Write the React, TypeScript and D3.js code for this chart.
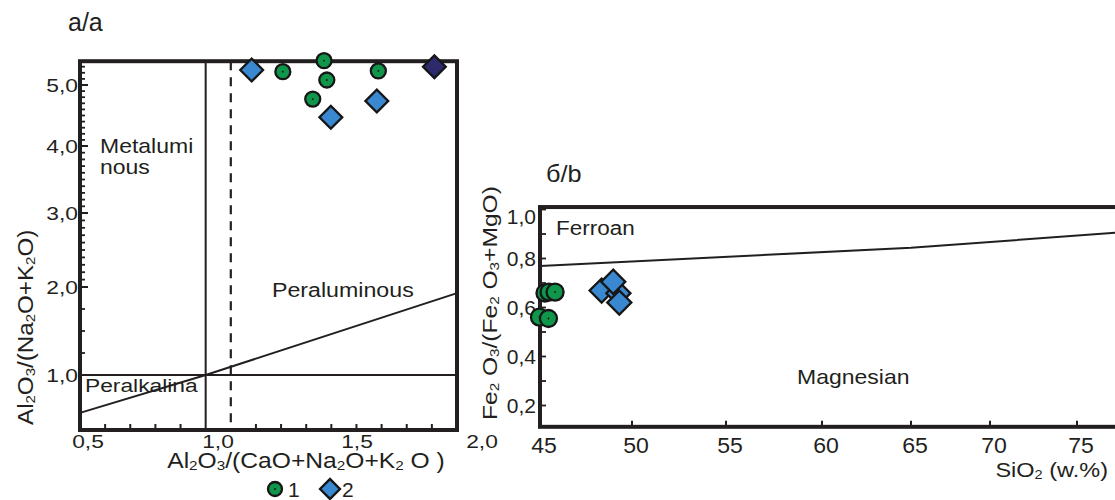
import React from 'react';
import * as d3 from 'd3';

// ---- chart a: Shand index (A/NK vs A/CNK) ----
const g1A_x = [1.307, 1.471, 1.482, 1.426, 1.687];
const g1A_y = [5.218, 5.398, 5.082, 4.77, 5.23];
const g2A_x = [1.183, 1.498, 1.681];
const g2A_y = [5.246, 4.47, 4.738];
const darkA_x = [1.91];
const darkA_y = [5.3];
const diagonalA = [[0.5, 0.57], [1.0, 1.0], [2.0, 1.93]];
const xTicksA = [0.5, 1.0, 1.5, 2.0];
const xTickLabelsA = ['0,5', '1,0', '1,5', '2,0'];
const yTicksA = [1, 2, 3, 4, 5];
const yTickLabelsA = ['1,0', '2,0', '3,0', '4,0', '5,0'];

// ---- chart b: Fe-number vs SiO2 ----
const g1B_x = [45.27, 45.49, 45.82, 44.97, 45.46];
const g1B_y = [0.659, 0.663, 0.663, 0.561, 0.555];
const g2B_x = [48.35, 49.26, 49.31, 48.98];
const g2B_y = [0.669, 0.658, 0.62, 0.705];
const frostLine = [[45, 0.769], [65, 0.844], [77.2, 0.905]];
const xTicksB = [45, 50, 55, 60, 65, 70, 75];
const yTicksB = [0.2, 0.4, 0.6, 0.8, 1.0];
const yTickLabelsB = ['0,2', '0,4', '0,6', '0,8', '1,0'];

const GREEN = '#0f964a';
const BLUE = '#3a88cf';
const NAVY = '#2d2a6c';
const INK = '#231f20';
const FONT = '"Liberation Sans", Arial, sans-serif';

// subscript digits in formulas
function chem(s: string, size: number) {
  const parts = s.match(/\d+|[^\d]+/g) || [];
  let low = false;
  return parts.map((p, i) => {
    if (/^\d+$/.test(p)) {
      const dy = low ? 0 : 1.5;
      low = true;
      return <tspan key={i} fontSize={size * 0.62} dy={dy}>{p}</tspan>;
    }
    const dy = low ? -1.5 : 0;
    low = false;
    return <tspan key={i} dy={dy}>{p}</tspan>;
  });
}

function T({ x, y, size, sx = 1, rot = 0, anchor = 'start', children }: any) {
  return (
    <text transform={`translate(${x},${y}) rotate(${rot}) scale(${sx},1)`}
      fontSize={size} textAnchor={anchor} fill={INK} fontFamily={FONT}>
      {children}
    </text>
  );
}

function Dot({ x, y, r = 7.5 }: any) {
  return (
    <g transform={`translate(${x},${y})`}>
      <circle r={r} fill={GREEN} stroke="#161616" strokeWidth={2.3} />
      <circle r={0.9} fill="#111" />
    </g>
  );
}

function Diamond({ x, y, size = 260, fill = BLUE }: any) {
  const d = d3.symbol(d3.symbolSquare, size)() || '';
  return <path d={d} transform={`translate(${x},${y}) rotate(45)`} fill={fill} stroke="#161616" strokeWidth={2.3} />;
}

export default function App() {
  // chart a scales
  const xA = d3.scaleLinear().domain([0.5, 2.0]).range([80, 457]);
  const yA = d3.scaleLinear().domain([1, 2, 3, 4, 5]).range([375, 287, 213, 146, 85]);
  const labelXA = d3.scaleLinear().domain([0.5, 1, 1.5, 2]).range([88, 218, 357, 482]);
  const aTop = yA(5.39), aBot = yA(0.375);
  const lineA = d3.line<number[]>().x(d => xA(d[0])).y(d => yA(d[1]));

  const minorYA = [
    ...d3.range(1.25, 2, 0.25),
    ...d3.range(2.1, 5.35, 0.1).filter(v => Math.abs(v - Math.round(v)) > 0.02),
  ];
  const minorXA = d3.range(0.6, 1.95, 0.1).filter(v => Math.abs(v - 1) > 0.02 && Math.abs(v - 1.1) > 0.02);

  // chart b scales
  const xB = d3.scaleLinear().domain([45, 50, 55, 60, 65, 70, 75]).range([540, 632, 726, 822, 911, 990, 1077]);
  const yB = d3.scaleLinear().domain([0.2, 1.0]).range([405.5, 209.5]);
  const bTop = yB(1.01), bBot = yB(0.113);
  const lineB = d3.line<number[]>().x(d => xB(d[0])).y(d => yB(d[1]));
  const minorYB = d3.range(0.2, 1.05, 0.1);

  return (
    <svg width={1115} height={500} style={{ position: 'absolute', left: 0, top: 0, background: '#fff' }}>
      <rect width={1115} height={500} fill="#fff" />

      {/* ===== chart a ===== */}
      <T x={68} y={31} size={25}>a/a</T>

      {/* boundaries */}
      <line x1={xA(0.5)} x2={xA(2.0)} y1={yA(1)} y2={yA(1)} stroke={INK} strokeWidth={2} />
      <line x1={xA(1.0)} x2={xA(1.0)} y1={aTop} y2={aBot} stroke={INK} strokeWidth={2} />
      <line x1={xA(1.1)} x2={xA(1.1)} y1={aTop} y2={aBot} stroke={INK} strokeWidth={2.2} strokeDasharray="9,7" />
      <path d={lineA(diagonalA) || ''} fill="none" stroke={INK} strokeWidth={2} />

      {/* ticks */}
      {yTicksA.map(v => <line key={'ya' + v} x1={xA(0.5)} x2={xA(0.5) + 8} y1={yA(v)} y2={yA(v)} stroke={INK} strokeWidth={2} />)}
      {minorYA.map(v => <line key={'mya' + v} x1={xA(0.5)} x2={xA(0.5) + 5} y1={yA(v)} y2={yA(v)} stroke={INK} strokeWidth={1.8} />)}
      {minorXA.map(v => <line key={'mxa' + v} x1={xA(v)} x2={xA(v)} y1={aBot} y2={aBot - 6} stroke={INK} strokeWidth={2} />)}

      <rect x={xA(0.5)} y={aTop} width={xA(2.0) - xA(0.5)} height={aBot - aTop} fill="none" stroke={INK} strokeWidth={4} />

      {yTicksA.map((v, i) => <T key={'yla' + v} x={78} y={yA(v) + 7} size={19} sx={1.2} anchor="end">{yTickLabelsA[i]}</T>)}
      {xTicksA.map((v, i) => <T key={'xla' + v} x={labelXA(v)} y={448} size={19} sx={1.2} anchor="middle">{xTickLabelsA[i]}</T>)}

      <T x={100} y={153} size={20} sx={1.15}>Metalumi</T>
      <T x={100} y={174} size={20} sx={1.15}>nous</T>
      <T x={272} y={297} size={20} sx={1.16}>Peraluminous</T>
      <T x={85} y={392} size={19} sx={1.2}>Peralkalina</T>

      <T x={306} y={468} size={22} sx={1.12} anchor="middle">{chem('Al2O3/(CaO+Na2O+K2 O )', 22)}</T>
      <T x={33} y={425} size={22} sx={1.1} rot={-90}>{chem('Al2O3/(Na2O+K2O)', 22)}</T>

      {/* points a */}
      {g1A_x.map((v, i) => <Dot key={'g1a' + i} x={xA(v)} y={yA(g1A_y[i])} />)}
      {g2A_x.map((v, i) => <Diamond key={'g2a' + i} x={xA(v)} y={yA(g2A_y[i])} />)}
      {darkA_x.map((v, i) => <Diamond key={'da' + i} x={xA(v)} y={yA(darkA_y[i])} fill={NAVY} />)}

      {/* legend */}
      <Dot x={275} y={489} r={7} />
      <T x={288} y={497} size={21}>1</T>
      <Diamond x={330} y={489} size={200} />
      <T x={342} y={497} size={21}>2</T>

      {/* ===== chart b ===== */}
      <T x={546} y={182} size={23} sx={1.1}>б/b</T>

      <path d={lineB(frostLine) || ''} fill="none" stroke={INK} strokeWidth={2} />

      {minorYB.map(v => <line key={'myb' + v} x1={xB(45)} x2={xB(45) + 6} y1={yB(v)} y2={yB(v)} stroke={INK} strokeWidth={1.8} />)}
      {xTicksB.slice(1).map(v => <line key={'mxb' + v} x1={xB(v)} x2={xB(v)} y1={bBot} y2={bBot - 6} stroke={INK} strokeWidth={2} />)}

      <rect x={xB(45)} y={bTop} width={xB(80) - xB(45)} height={bBot - bTop} fill="none" stroke={INK} strokeWidth={4} />

      {yTicksB.map((v, i) => <T key={'ylb' + v} x={536} y={v === 1.0 ? 224 : yB(v) + 7.5} size={21} anchor="end">{yTickLabelsB[i]}</T>)}
      {xTicksB.map(v => <T key={'xlb' + v} x={xB(v) + 4} y={453} size={22} sx={1.05} anchor="middle">{String(v)}</T>)}

      <T x={556} y={235} size={21} sx={1.07}>Ferroan</T>
      <T x={797} y={384} size={20} sx={1.15}>Magnesian</T>

      <T x={1108} y={477} size={21} sx={1.12} anchor="end">{chem('SiO2 (w.%)', 21)}</T>
      <T x={497} y={420} size={21} sx={1.17} rot={-90}>{chem('Fe2 O3/(Fe2 O3+MgO)', 21)}</T>

      {/* points b */}
      {g1B_x.map((v, i) => <Dot key={'g1b' + i} x={xB(v)} y={yB(g1B_y[i])} r={8.5} />)}
      {g2B_x.map((v, i) => <Diamond key={'g2b' + i} x={xB(v)} y={yB(g2B_y[i])} size={290} />)}
    </svg>
  );
}
